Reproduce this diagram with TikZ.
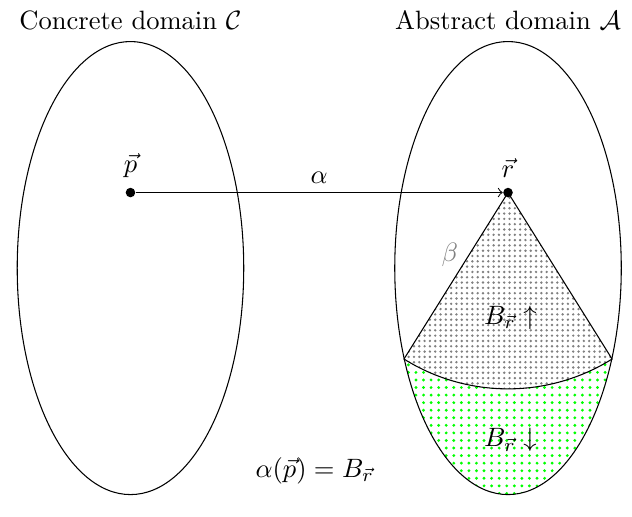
\documentclass[tikz,border=0pt]{standalone}
\usepackage{amsmath}
\usepackage{amssymb}
\usetikzlibrary{arrows,patterns,patterns.meta,positioning}
\tikzset{
  pt/.style={circle,fill=black,inner sep=0pt,minimum size=3.6pt},
  map/.style={->},
  lbl/.style={font=\normalsize}
}
\begin{document}
\begin{tikzpicture}[
        dom/.style={draw},
        upset/.style={draw, pattern={Dots[distance=2pt, radius=0.5pt]}, pattern color=gray},
        downset/.style={pattern={Dots[distance=2.85pt, radius=0.6pt]}, pattern color=green},
        note/.style={gray}
    ]
    \useasboundingbox (-1.728,-3.285) rectangle (6.642,3.55);
    % lower part of the abstract domain
    \begin{scope}
      \clip (5,0) ellipse (1.5 and 3);
      \fill[downset] (5,1) ++(238:2.6) arc (238:302:2.6) -- (7,-3.5) -- (3,-3.5) -- cycle;
    \end{scope}
    \draw[upset] (5,1) -- ++(238:2.6) arc (238:302:2.6) -- cycle;
    \draw[dom] (0,0) ellipse (1.5 and 3);
    \draw[dom] (5,0) ellipse (1.5 and 3);
    \node[lbl] (cdom) at (0,3.28) {Concrete domain $\mathcal{C}$};
    \node[lbl] (adom) at (5,3.28) {Abstract domain $\mathcal{A}$};
    \node[pt, label={above:$\vec{p}$}] (p) at (0,1) {};
    \node[pt, label={above:$\vec{r}$}] (r) at (5,1) {};
    \draw[map] (p) -- node[above] {$\alpha$} (r);
    \node[note] (beta) at (4.23,0.17) {$\beta$};
    \node (bup) at (5.03,-0.66) {$B_{\vec{r}}\uparrow$};
    \node (bdown) at (5.03,-2.28) {$B_{\vec{r}}\downarrow$};
    \node (eq) at (2.44,-2.68) {$\alpha(\vec{p}) = B_{\vec{r}}$};
\end{tikzpicture}
\end{document}
